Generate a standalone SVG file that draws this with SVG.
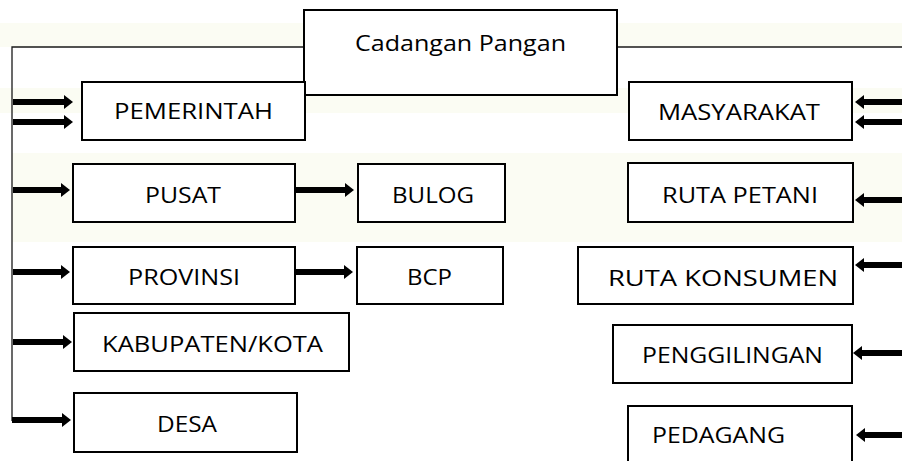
<svg xmlns="http://www.w3.org/2000/svg" width="902" height="461" viewBox="0 0 902 461">
<style>
.box{fill:#fff;stroke:#000;stroke-width:2}
.lbl{font-family:"Open Sans","Liberation Sans",sans-serif;font-size:22px;fill:#000}
.thin{stroke:#1a1a1a;stroke-width:1.3;fill:none}
.arr{stroke:#000;stroke-width:6;fill:none;marker-end:url(#ah)}
.band{fill:#fbfcf3}
</style>
<defs>
<marker id="ah" markerUnits="userSpaceOnUse" markerWidth="10" markerHeight="14" refX="0" refY="7" orient="auto">
<path d="M0,0 L9,7 L0,14 z" fill="#000"/>
</marker>
</defs>
<rect width="902" height="461" fill="#fff"/>
<g id="bands">
<rect class="band" x="0" y="23" width="902" height="24"/>
<rect class="band" x="0" y="88" width="902" height="25"/>
<rect class="band" x="12" y="153" width="890" height="89"/>
</g>
<g id="connectors">
<path class="thin" d="M304,47 H12 V421"/>
<path class="thin" d="M617,47 H902"/>
<line class="arr" x1="13" y1="102" x2="64" y2="102"/>
<line class="arr" x1="13" y1="122" x2="64" y2="122"/>
<line class="arr" x1="13" y1="190" x2="61" y2="190"/>
<line class="arr" x1="296" y1="190" x2="345" y2="190"/>
<line class="arr" x1="13" y1="272" x2="61" y2="272"/>
<line class="arr" x1="296" y1="272" x2="344" y2="272"/>
<line class="arr" x1="13" y1="342" x2="63" y2="342"/>
<line class="arr" x1="12" y1="420" x2="62" y2="420"/>
<line class="arr" x1="902" y1="102" x2="864" y2="102"/>
<line class="arr" x1="902" y1="122" x2="864" y2="122"/>
<line class="arr" x1="902" y1="200" x2="864" y2="200"/>
<line class="arr" x1="902" y1="265" x2="864" y2="265"/>
<line class="arr" x1="902" y1="353" x2="862" y2="353"/>
<line class="arr" x1="902" y1="435" x2="865" y2="435"/>
</g>
<g id="cadangan">
<rect class="box" x="304" y="10" width="313" height="85"/>
<text class="lbl" x="355" y="51" textLength="211" lengthAdjust="spacingAndGlyphs">Cadangan Pangan</text>
</g>
<g id="pemerintah">
<rect class="box" x="82" y="82" width="223" height="58"/>
<text class="lbl" x="114" y="119" textLength="159" lengthAdjust="spacingAndGlyphs">PEMERINTAH</text>
</g>
<g id="masyarakat">
<rect class="box" x="629" y="82" width="223" height="58"/>
<text class="lbl" x="658" y="120" textLength="162" lengthAdjust="spacingAndGlyphs">MASYARAKAT</text>
</g>
<g id="pusat">
<rect class="box" x="73" y="164" width="222" height="58"/>
<text class="lbl" x="145" y="203" textLength="76" lengthAdjust="spacingAndGlyphs">PUSAT</text>
</g>
<g id="bulog">
<rect class="box" x="358" y="164" width="147" height="58"/>
<text class="lbl" x="392" y="203" textLength="82" lengthAdjust="spacingAndGlyphs">BULOG</text>
</g>
<g id="provinsi">
<rect class="box" x="73" y="247" width="222" height="57"/>
<text class="lbl" x="128" y="285" textLength="112" lengthAdjust="spacingAndGlyphs">PROVINSI</text>
</g>
<g id="bcp">
<rect class="box" x="357" y="247" width="146" height="57"/>
<text class="lbl" x="407" y="285" textLength="45" lengthAdjust="spacingAndGlyphs">BCP</text>
</g>
<g id="ruta-petani">
<rect class="box" x="628" y="163" width="225" height="59"/>
<text class="lbl" x="662" y="203" textLength="156" lengthAdjust="spacingAndGlyphs">RUTA PETANI</text>
</g>
<g id="ruta-konsumen">
<rect class="box" x="578" y="247" width="275" height="57"/>
<text class="lbl" x="608" y="286" textLength="230" lengthAdjust="spacingAndGlyphs">RUTA KONSUMEN</text>
</g>
<g id="kabupaten">
<rect class="box" x="74" y="313" width="275" height="58"/>
<text class="lbl" x="102" y="352" textLength="221" lengthAdjust="spacingAndGlyphs">KABUPATEN/KOTA</text>
</g>
<g id="desa">
<rect class="box" x="74" y="393" width="223" height="59"/>
<text class="lbl" x="157" y="432" textLength="60" lengthAdjust="spacingAndGlyphs">DESA</text>
</g>
<g id="penggilingan">
<rect class="box" x="613" y="325" width="239" height="58"/>
<text class="lbl" x="642" y="363" textLength="181" lengthAdjust="spacingAndGlyphs">PENGGILINGAN</text>
</g>
<g id="pedagang">
<rect class="box" x="628" y="406" width="224" height="64"/>
<text class="lbl" x="652" y="443" textLength="133" lengthAdjust="spacingAndGlyphs">PEDAGANG</text>
</g>
</svg>
